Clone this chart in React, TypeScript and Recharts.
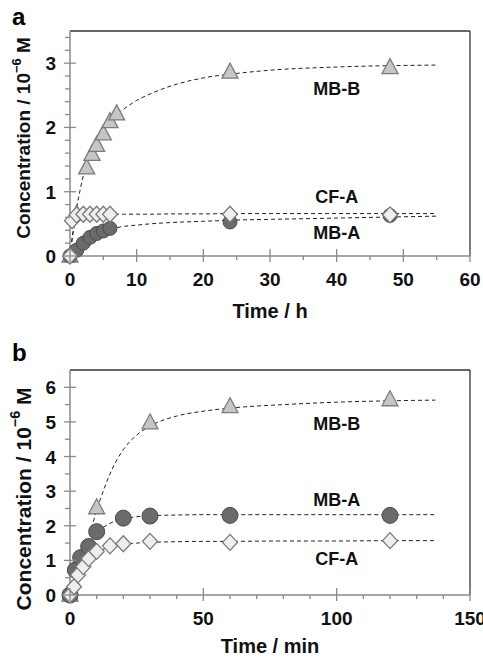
import { ComposedChart, Line, Scatter, XAxis, YAxis, ReferenceLine, ReferenceDot } from 'recharts';

// panel a: time in hours
const hoursMBB = [0, 1, 2.5, 3.3, 4, 5, 6, 7, 24, 48];
const concMBBh = [0, 0.65, 1.37, 1.58, 1.72, 1.9, 2.09, 2.21, 2.86, 2.93];
const hoursCFA = [0, 0.3, 1, 2, 3, 4, 5, 6, 24, 48];
const concCFAh = [0, 0.55, 0.64, 0.65, 0.65, 0.65, 0.65, 0.65, 0.65, 0.64];
const hoursMBA = [0, 1, 2, 3, 4, 5, 6, 24, 48];
const concMBAh = [0, 0.09, 0.2, 0.29, 0.35, 0.39, 0.43, 0.53, 0.63];

// fitted curves (dashed)
const fitHours = [0, 0.5, 1, 1.5, 2, 3, 4, 5, 6, 7, 8, 10, 12, 15, 20, 25, 30, 40, 55];
const fitMBBh = [0, 0.4, 0.75, 1.02, 1.25, 1.57, 1.8, 1.97, 2.1, 2.2, 2.28, 2.42, 2.52, 2.64, 2.77, 2.84, 2.89, 2.94, 2.97];
const fitMBAh = [0, 0.05, 0.1, 0.14, 0.18, 0.26, 0.32, 0.37, 0.41, 0.44, 0.46, 0.48, 0.5, 0.52, 0.54, 0.56, 0.57, 0.59, 0.62];
const fitCFAh = [0, 0.4, 0.57, 0.61, 0.63, 0.64, 0.645, 0.65, 0.65, 0.65, 0.65, 0.65, 0.65, 0.655, 0.655, 0.66, 0.66, 0.66, 0.66];

// panel b: time in minutes
const minMBB = [0, 10, 30, 60, 120];
const concMBBm = [0, 2.52, 4.97, 5.44, 5.64];
const minMBA = [0, 2, 4, 7, 10, 20, 30, 60, 120];
const concMBAm = [0, 0.72, 1.08, 1.4, 1.83, 2.22, 2.28, 2.3, 2.3];
const minCFA = [0, 1.5, 3, 5, 7, 10, 15, 20, 30, 60, 120];
const concCFAm = [0, 0.24, 0.58, 0.82, 1.05, 1.26, 1.42, 1.48, 1.55, 1.52, 1.57];

const fitMin = [0, 2, 4, 6, 8, 10, 12, 15, 20, 25, 30, 40, 50, 60, 80, 100, 120, 137];
const fitMBBm = [0, 0.35, 0.8, 1.35, 1.9, 2.45, 2.9, 3.5, 4.2, 4.62, 4.88, 5.17, 5.31, 5.4, 5.5, 5.57, 5.61, 5.63];
const fitMBAm = [0, 0.6, 1.02, 1.33, 1.6, 1.8, 1.93, 2.07, 2.2, 2.26, 2.29, 2.31, 2.32, 2.32, 2.32, 2.32, 2.32, 2.32];
const fitCFAm = [0, 0.3, 0.58, 0.85, 1.05, 1.2, 1.3, 1.4, 1.47, 1.5, 1.52, 1.54, 1.55, 1.55, 1.56, 1.56, 1.57, 1.57];

// ticks
const ticksHours = [0, 5, 10, 15, 20, 25, 30, 35, 40, 45, 50, 55, 60];
const labelsHours = [0, 10, 20, 30, 40, 50, 60];
const ticksConcA = [0, 0.2, 0.4, 0.6, 0.8, 1, 1.2, 1.4, 1.6, 1.8, 2, 2.2, 2.4, 2.6, 2.8, 3, 3.2, 3.4];
const labelsConcA = [0, 1, 2, 3];
const ticksMin = [0, 10, 20, 30, 40, 50, 60, 70, 80, 90, 100, 110, 120, 130, 140, 150];
const labelsMin = [0, 50, 100, 150];
const ticksConcB = [0, 0.5, 1, 1.5, 2, 2.5, 3, 3.5, 4, 4.5, 5, 5.5, 6];
const labelsConcB = [0, 1, 2, 3, 4, 5, 6];

const pts = (xs: number[], ys: number[]) => xs.map((t, i) => ({ t, v: ys[i] }));

const FONT = "'Liberation Sans', Arial, sans-serif";
const AXIS = '#8a8a8a';
const BORDER = '#333';

const makeXTick = (labels: number[]) => (p: any) => {
  const { x, y, payload } = p;
  const major = labels.includes(payload.value);
  return (
    <g>
      <line x1={x} x2={x} y1={major ? y - 7 : y} y2={major ? y + 6 : y + 4} stroke={AXIS} strokeWidth={1.3} />
      {major && (
        <text x={x} y={y + 30} textAnchor="middle" fontSize={19} fontWeight="bold" fontFamily={FONT} fill="#111">
          {payload.value}
        </text>
      )}
    </g>
  );
};

const makeYTick = (labels: number[]) => (p: any) => {
  const { x, y, payload } = p;
  const major = labels.includes(payload.value);
  return (
    <g>
      <line x1={major ? x - 6 : x - 5} x2={major ? x + 6 : x} y1={y} y2={y} stroke={AXIS} strokeWidth={1.3} />
      {major && (
        <text x={x - 14} y={y + 7} textAnchor="end" fontSize={19} fontWeight="bold" fontFamily={FONT} fill="#111">
          {payload.value}
        </text>
      )}
    </g>
  );
};

const yTitle = (cy: number, fs: number) => () => (
  <text
    transform={`translate(23,${cy}) rotate(-90)`}
    textAnchor="middle"
    dominantBaseline="central"
    fontSize={fs}
    fontWeight="bold"
    fontFamily={FONT}
    fill="#111"
  >
    Concentration / 10
    <tspan dy={-fs * 0.38} fontSize={fs * 0.68}>−6</tspan>
    <tspan dy={fs * 0.38}> M</tspan>
  </text>
);

const Tri = (p: any) => {
  const { cx, cy } = p;
  return (
    <polygon
      points={`${cx},${cy - 9} ${cx - 8},${cy + 6} ${cx + 8},${cy + 6}`}
      fill="#c6c6c6"
      stroke="#7c7c7c"
      strokeWidth={1.3}
    />
  );
};
const Dot = (r: number) => (p: any) => (
  <circle cx={p.cx} cy={p.cy} r={r} fill="#6b6b6b" stroke="#4a4a4a" strokeWidth={1} />
);
const Dia = (p: any) => {
  const { cx, cy } = p;
  return (
    <polygon
      points={`${cx},${cy - 8} ${cx + 7.5},${cy} ${cx},${cy + 8} ${cx - 7.5},${cy}`}
      fill="#eeeeee"
      stroke="#7a7a7a"
      strokeWidth={1.3}
    />
  );
};

const fitLine = (data: { t: number; v: number }[], key: string) => (
  <Line
    key={key}
    data={data}
    dataKey="v"
    type="monotone"
    stroke="#222"
    strokeWidth={1}
    strokeDasharray="4 3"
    dot={false}
    activeDot={false}
    isAnimationActive={false}
  />
);

const seriesLabel = (x: number, y: number, text: string) => (
  <ReferenceDot
    key={text}
    x={x}
    y={y}
    r={0}
    fill="none"
    stroke="none"
    label={{ value: text, position: 'center', fontSize: 18, fontWeight: 'bold', fontFamily: FONT, fill: '#111' }}
  />
);

export default function App() {
  return (
    <div style={{ position: 'relative', width: 483, height: 659, background: '#fff' }}>
      <style>{'body{margin:0}'}</style>
      <div style={{ position: 'absolute', left: 12, top: 5, fontFamily: FONT, fontWeight: 'bold', fontSize: 24, lineHeight: 1 }}>a</div>
      <div style={{ position: 'absolute', left: 12, top: 341, fontFamily: FONT, fontWeight: 'bold', fontSize: 24, lineHeight: 1 }}>b</div>

      <div style={{ position: 'absolute', left: 0, top: 0 }}>
        <ComposedChart width={483} height={330} margin={{ top: 31, right: 13, bottom: 0, left: 0 }}>
          <XAxis
            dataKey="t"
            type="number"
            domain={[0, 60]}
            ticks={ticksHours}
            interval={0}
            height={74}
            tickSize={0}
            tickMargin={0}
            tickLine={false}
            axisLine={{ stroke: AXIS, strokeWidth: 1.5 }}
            tick={makeXTick(labelsHours)}
            label={{ value: 'Time / h', position: 'insideBottom', offset: 12, fontSize: 20, fontWeight: 'bold', fontFamily: FONT, fill: '#111' }}
          />
          <YAxis
            dataKey="v"
            type="number"
            domain={[0, 3.5]}
            ticks={ticksConcA}
            interval={0}
            width={70}
            tickSize={0}
            tickMargin={0}
            tickLine={false}
            axisLine={{ stroke: AXIS, strokeWidth: 1.5 }}
            tick={makeYTick(labelsConcA)}
            label={yTitle(138, 19)}
          />
          <ReferenceLine y={3.5} stroke={BORDER} strokeWidth={1.3} />
          <ReferenceLine x={60} stroke={BORDER} strokeWidth={1.3} />
          {fitLine(pts(fitHours, fitMBBh), 'fa1')}
          {fitLine(pts(fitHours, fitCFAh), 'fa2')}
          {fitLine(pts(fitHours, fitMBAh), 'fa3')}
          <Scatter data={pts(hoursMBB, concMBBh)} dataKey="v" shape={Tri} isAnimationActive={false} />
          <Scatter data={pts(hoursMBA, concMBAh)} dataKey="v" shape={Dot(7)} isAnimationActive={false} />
          <Scatter data={pts(hoursCFA, concCFAh)} dataKey="v" shape={Dia} isAnimationActive={false} />
          {seriesLabel(40, 2.61, 'MB-B')}
          {seriesLabel(40, 0.92, 'CF-A')}
          {seriesLabel(40, 0.36, 'MB-A')}
        </ComposedChart>
      </div>

      <div style={{ position: 'absolute', left: 0, top: 330 }}>
        <ComposedChart width={483} height={329} margin={{ top: 40, right: 13, bottom: 0, left: 0 }}>
          <XAxis
            dataKey="t"
            type="number"
            domain={[0, 150]}
            ticks={ticksMin}
            interval={0}
            height={64}
            tickSize={0}
            tickMargin={0}
            tickLine={false}
            axisLine={{ stroke: AXIS, strokeWidth: 1.5 }}
            tick={makeXTick(labelsMin)}
            label={{ value: 'Time / min', position: 'insideBottom', offset: 6, fontSize: 20, fontWeight: 'bold', fontFamily: FONT, fill: '#111' }}
          />
          <YAxis
            dataKey="v"
            type="number"
            domain={[0, 6.5]}
            ticks={ticksConcB}
            interval={0}
            width={70}
            tickSize={0}
            tickMargin={0}
            tickLine={false}
            axisLine={{ stroke: AXIS, strokeWidth: 1.5 }}
            tick={makeYTick(labelsConcB)}
            label={yTitle(169, 21)}
          />
          <ReferenceLine y={6.5} stroke={BORDER} strokeWidth={1.3} />
          <ReferenceLine x={150} stroke={BORDER} strokeWidth={1.3} />
          {fitLine(pts(fitMin, fitMBBm), 'fb1')}
          {fitLine(pts(fitMin, fitMBAm), 'fb2')}
          {fitLine(pts(fitMin, fitCFAm), 'fb3')}
          <Scatter data={pts(minMBB, concMBBm)} dataKey="v" shape={Tri} isAnimationActive={false} />
          <Scatter data={pts(minMBA, concMBAm)} dataKey="v" shape={Dot(8)} isAnimationActive={false} />
          <Scatter data={pts(minCFA, concCFAm)} dataKey="v" shape={Dia} isAnimationActive={false} />
          {seriesLabel(100, 4.94, 'MB-B')}
          {seriesLabel(100, 2.77, 'MB-A')}
          {seriesLabel(100, 1.04, 'CF-A')}
        </ComposedChart>
      </div>
    </div>
  );
}
